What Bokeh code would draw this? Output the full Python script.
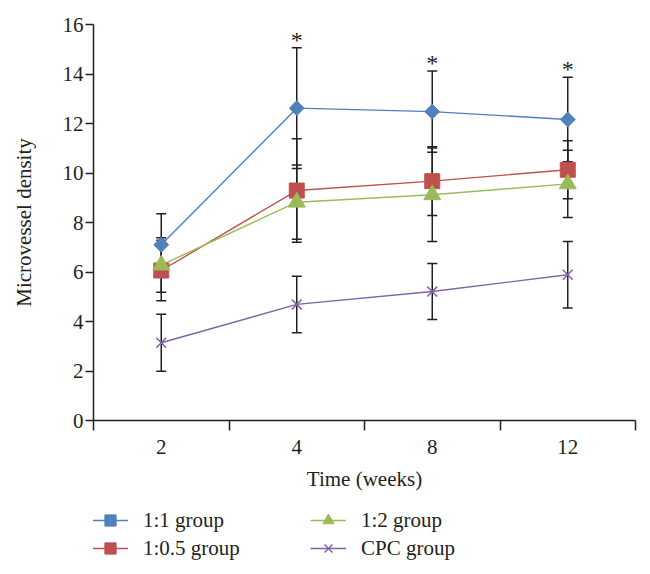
from bokeh.plotting import figure
from bokeh.layouts import column
from bokeh.models import (FactorRange, Range1d, LinearAxis, CategoricalAxis, FixedTicker,
                          Whisker, TeeHead, ColumnDataSource, Legend, LegendItem)
from bokeh.core.properties import value
from bokeh.embed import file_html
from bokeh.resources import INLINE

# ---- data ----
weeks = ["2", "4", "8", "12"]
mvd_1_1 = [7.10, 12.62, 12.48, 12.16]
sd_1_1 = [1.25, 2.44, 1.64, 1.71]
mvd_1_05 = [6.06, 9.29, 9.67, 10.13]
sd_1_05 = [1.22, 2.09, 1.39, 1.17]
mvd_1_2 = [6.28, 8.82, 9.12, 9.56]
sd_1_2 = [1.10, 1.50, 1.89, 1.36]
mvd_cpc = [3.14, 4.69, 5.21, 5.89]
sd_cpc = [1.15, 1.14, 1.13, 1.34]
sig_1_1 = ["", "*", "*", "*"]
y_ticks = [0, 2, 4, 6, 8, 10, 12, 14, 16]

FONT = "Liberation Serif"
FS = "21px"
TXT = "#231f20"

p = figure(x_range=FactorRange(*weeks), y_range=Range1d(0, 16),
           frame_width=542, frame_height=396,
           min_border_left=93, min_border_right=15, min_border_top=24, min_border_bottom=80,
           output_backend="svg", toolbar_location=None, x_axis_location=None)
p.outline_line_color = None
p.grid.visible = False
p.background_fill_color = "white"
p.border_fill_color = "white"

# category boundaries (synthetic coordinates of the factor range) carry the tick marks
edge_ticks = list(range(len(weeks) + 1))
edge_axis = LinearAxis(ticker=FixedTicker(ticks=edge_ticks),
                       major_tick_out=10, major_tick_in=0, minor_tick_line_color=None,
                       major_label_overrides={t: "" for t in edge_ticks},
                       major_label_text_font_size="1px", major_label_standoff=0,
                       axis_line_color=TXT, axis_line_width=1.5,
                       major_tick_line_color=TXT, major_tick_line_width=1.5)
p.add_layout(edge_axis, "below")
cat_axis = CategoricalAxis(axis_line_color=None, major_tick_line_color=None,
                           major_tick_out=0, major_tick_in=0,
                           major_label_text_font=FONT, major_label_text_font_size=FS,
                           major_label_text_color=TXT, major_label_standoff=9,
                           axis_label="Time (weeks)", axis_label_text_font=FONT,
                           axis_label_text_font_size=FS, axis_label_text_font_style="normal",
                           axis_label_text_color=TXT, axis_label_standoff=10)
p.add_layout(cat_axis, "below")

ya = p.yaxis[0]
ya.ticker = FixedTicker(ticks=y_ticks)
ya.major_tick_out = 8
ya.major_tick_in = 0
ya.minor_tick_line_color = None
ya.axis_line_color = TXT
ya.axis_line_width = 1.5
ya.major_tick_line_color = TXT
ya.major_tick_line_width = 1.5
ya.major_label_text_font = FONT
ya.major_label_text_font_size = FS
ya.major_label_text_color = TXT
ya.major_label_standoff = 2
ya.axis_label = "Microvessel density"
ya.axis_label_text_font = FONT
ya.axis_label_text_font_size = FS
ya.axis_label_text_font_style = "normal"
ya.axis_label_text_color = TXT
ya.axis_label_standoff = 24

series = [
    ("1:1 group", mvd_1_1, sd_1_1, "#4f81bd", dict(marker="square", size=10.5, angle=0.785398)),
    ("1:0.5 group", mvd_1_05, sd_1_05, "#c0504d", dict(marker="square", size=15)),
    ("1:2 group", mvd_1_2, sd_1_2, "#9bbb59", dict(marker="triangle", size=17)),
    ("CPC group", mvd_cpc, sd_cpc, "#8064a2", dict(marker="x", size=14, line_width=1.5)),
]

srcs = []
for name, m, s, col, mk in series:
    src = ColumnDataSource(dict(x=weeks, y=m,
                                upper=[a + b for a, b in zip(m, s)],
                                lower=[a - b for a, b in zip(m, s)]))
    srcs.append(src)
    w = Whisker(base="x", upper="upper", lower="lower", source=src,
                line_color=TXT, line_width=1.5,
                upper_head=TeeHead(size=10, line_color=TXT, line_width=1.5),
                lower_head=TeeHead(size=10, line_color=TXT, line_width=1.5))
    p.add_layout(w)

for (name, m, s, col, mk), src in zip(series, srcs):
    p.line(x="x", y="y", source=src, line_color=col, line_width=1.4)

for (name, m, s, col, mk), src in zip(series, srcs):
    p.scatter(x="x", y="y", source=src, fill_color=col, line_color=col, **mk)

# significance marks above the 1:1 group error bars
sig_src = ColumnDataSource(dict(x=weeks, y=[a + b for a, b in zip(mvd_1_1, sd_1_1)], t=sig_1_1))
p.text(x="x", y="y", text="t", source=sig_src, text_font=value(FONT), text_font_size="24px",
       text_color=TXT, text_align="center", text_baseline="alphabetic", y_offset=-8)

# ---- legend strip below the chart ----
leg = figure(width=650, height=74, min_border=0, output_backend="svg", toolbar_location=None,
             x_range=FactorRange(*weeks), y_range=Range1d(0, 16),
             x_axis_location=None, y_axis_location=None)
leg.outline_line_color = None
leg.grid.visible = False
leg.background_fill_color = "white"
leg.border_fill_color = "white"

items = []
for (name, m, s, col, mk), src in zip(series, srcs):
    # hidden copies of the series: only their legend samples are drawn
    ln = leg.line(x="x", y="y", source=src, line_color=col, line_width=1.4, visible=False)
    sc = leg.scatter(x="x", y="y", source=src, fill_color=col, line_color=col, visible=False, **mk)
    items.append(LegendItem(label=name, renderers=[ln, sc]))

legend = Legend(items=items, location=(-1, 12), ncols=2,
                label_text_font=FONT, label_text_font_size=FS, label_text_color=TXT,
                glyph_width=36, glyph_height=28, label_standoff=15, label_width=167,
                label_height=28, spacing=0, padding=0, margin=0,
                inactive_fill_alpha=0,
                border_line_color=None, background_fill_alpha=0)
leg.add_layout(legend)

open("out.html", "w").write(file_html(column(p, leg, spacing=0), INLINE))
